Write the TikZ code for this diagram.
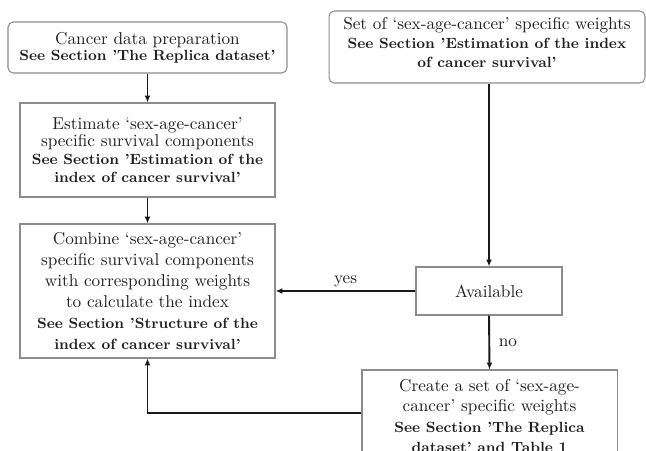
\documentclass[tikz,border=0pt]{standalone}
\usepackage{fontspec}
\usetikzlibrary{arrows.meta}
\newcommand\mybs{12pt}
\newcommand\bsec{\fontsize{8.6}{\mybs}\selectfont\bfseries}
\tikzset{
  box/.style={draw=black!45, line width=0.6pt, inner sep=0pt, align=center, text=black!88},
  rbox/.style={box, rounded corners=3pt},
  fs/.style={font=\def\mybs{#1}\fontsize{10}{#1}\selectfont},
  flow/.style={draw=black!90, line width=1.1pt, -{Latex[length=4pt,width=3.4pt]}},
  back/.style={draw=black!90, line width=0.6pt, -{Latex[length=4pt,width=3.4pt]}},
  lbl/.style={font=\fontsize{10}{12}\selectfont, text=black!88, inner sep=0pt},
}
\begin{document}
\begin{tikzpicture}[x=0.5814pt, y=-0.5814pt]
\useasboundingbox (0,0) rectangle (646,451);
\clip (0,0) rectangle (646,451);

\node[rbox, fs=9.4pt, text width=162.2pt, minimum height=29.65pt] (prep) at (147.5,47.5)
  {Cancer data preparation\\ \bsec See Section 'The Replica dataset'};

\node[rbox, fs=11.2pt, text width=183.7pt, minimum height=41.86pt] (weights) at (487,47)
  {Set of `sex-age-cancer' specific weights\\ \bsec See Section 'Estimation of the index\\ of cancer survival'\rule[-5.2pt]{0pt}{5.2pt}};

\node[box, fs=10.4pt, text width=148.26pt, minimum height=54.65pt] (estim) at (147.5,150)
  {Estimate `sex-age-cancer'\\ specific survival components\\ \bsec See Section 'Estimation of the\\ index of cancer survival'};

\node[box, fs=12.2pt, text width=148.26pt, minimum height=77.91pt] (comb) at (147.5,291)
  {Combine `sex-age-cancer'\\ specific survival components\\ with corresponding weights\\ to calculate the index\\ \bsec See Section 'Structure of the\\ index of cancer survival'};

\node[box, fs=12pt, text width=84.88pt, minimum height=27.91pt] (avail) at (489,291)
  {Available};

\node[box, fs=12pt, text width=148.26pt, minimum height=53.49pt] (create) at (489.5,416)
  {Create a set of `sex-age-\\ cancer' specific weights\\ \bsec See Section 'The Replica\\ dataset' and Table 1};

\draw[flow] (prep.south) -- (estim.north);
\draw[flow] (estim.south) -- (comb.north);
\draw[flow] (avail.north |- weights.south) -- (avail.north);
\draw[flow] (avail.west) -- node[lbl, midway, anchor=base, yshift=4.4pt] {yes} (comb.east);
\draw[flow] (avail.south) -- node[lbl, midway, anchor=base west, xshift=5pt, yshift=-2.4pt] {no} (create.north);
\draw[back] ([yshift=1.74pt]create.west) -| (comb.south);
\end{tikzpicture}
\end{document}
